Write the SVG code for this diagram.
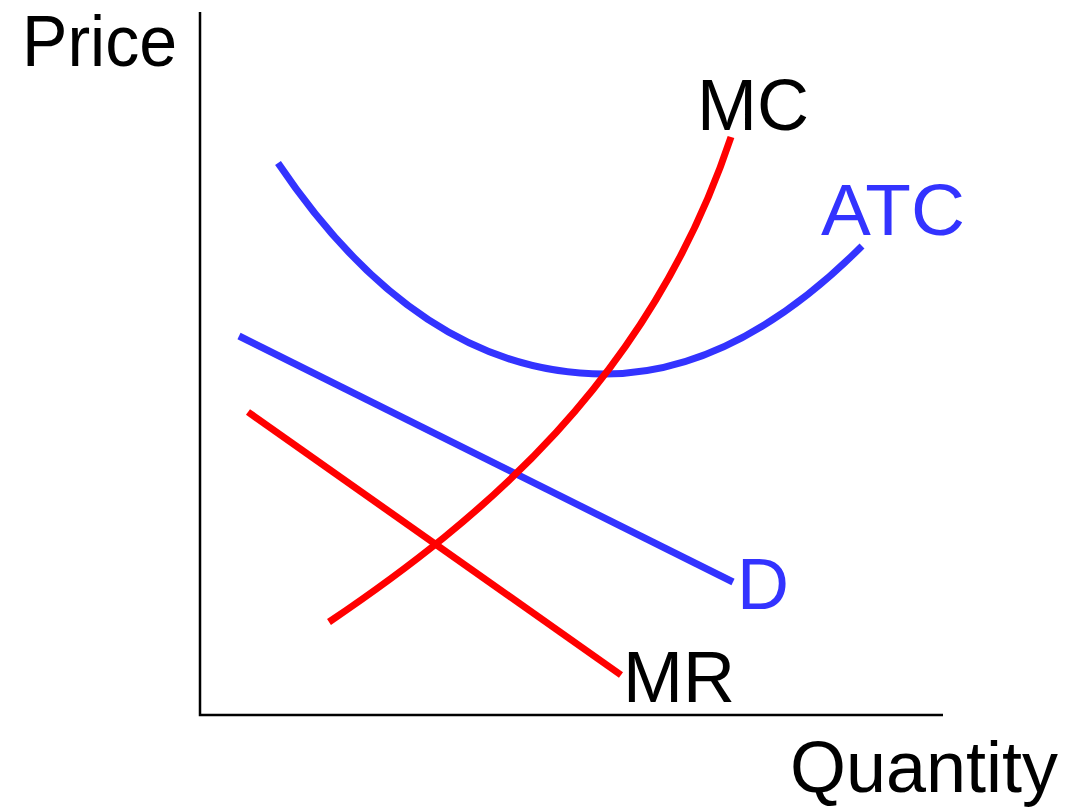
<svg xmlns="http://www.w3.org/2000/svg" width="1083" height="809" viewBox="0 0 1083 809">
<style>
.lbl{font-family:"Liberation Sans",Arial,sans-serif;font-size:72px}
.blk{fill:#000}
.blu{fill:#3333ff}
.curve{fill:none;stroke-width:7}
.red{stroke:#ff0000}
.blue{stroke:#3333ff}
.axis{fill:none;stroke:#000;stroke-width:2.5}
</style>
<rect width="1083" height="809" fill="#fff"/>
<g id="axes">
<path class="axis" d="M200,12 L200,715 L943,715"/>
<text class="lbl blk" x="22" y="66" textLength="155" lengthAdjust="spacingAndGlyphs">Price</text>
<text class="lbl blk" x="790" y="792" textLength="268" lengthAdjust="spacingAndGlyphs">Quantity</text>
</g>
<g id="connectors">
<g id="ATC">
<path class="curve blue" d="M278,163 Q420,374 605,374 Q734,374 862,246"/>
<text class="lbl blu" x="821" y="235" textLength="144" lengthAdjust="spacingAndGlyphs">ATC</text>
</g>
<g id="D">
<path class="curve blue" d="M239,336 L733,582"/>
<text class="lbl blu" x="737" y="609">D</text>
</g>
<g id="MR">
<path class="curve red" d="M248,412 L621,675"/>
<text class="lbl blk" x="623" y="702">MR</text>
</g>
<g id="MC">
<path class="curve red" d="M329,622 C480,520 650,380 731,137"/>
<text class="lbl blk" x="697" y="130">MC</text>
</g>
</g>
</svg>
